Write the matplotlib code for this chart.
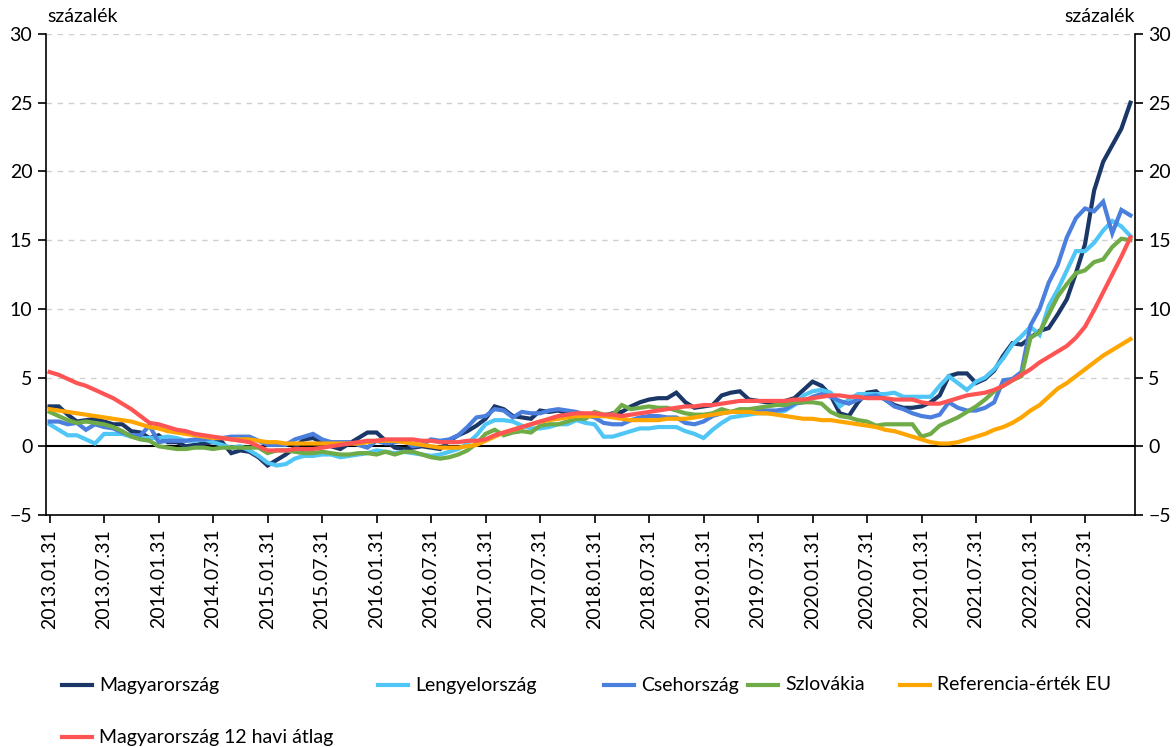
import matplotlib
matplotlib.use("Agg")
import matplotlib.pyplot as plt
from matplotlib.lines import Line2D
import numpy as np
import pandas as pd

plt.rcParams['font.family'] = ['Lato', 'DejaVu Sans']

# havi adatok 2013.01 - 2022.12, éves változás, százalék
dates = pd.date_range('2013-01-31', periods=120, freq='ME')

hu = [2.9, 2.9, 2.3, 1.8, 1.9, 2.0, 1.8, 1.6, 1.6, 1.1, 1.0, 0.6,
      0.8, 0.3, 0.3, 0.0, 0.1, 0.2, 0.3, 0.3, -0.5, -0.3, -0.4, -0.8,
      -1.4, -1.0, -0.6, -0.1, 0.5, 0.6, 0.3, 0.0, -0.2, 0.2, 0.6, 1.0,
      1.0, 0.4, -0.1, -0.2, -0.1, 0.0, -0.1, -0.2, 0.4, 0.8, 1.1, 1.5,
      2.0, 2.9, 2.7, 2.2, 2.1, 2.0, 2.6, 2.5, 2.6, 2.4, 2.3, 2.2,
      2.2, 2.2, 2.4, 2.5, 2.9, 3.2, 3.4, 3.5, 3.5, 3.9, 3.2, 2.8,
      2.9, 3.0, 3.7, 3.9, 4.0, 3.4, 3.3, 3.2, 3.2, 3.3, 3.5, 4.1,
      4.7, 4.4, 3.7, 2.4, 2.2, 3.2, 3.9, 4.0, 3.4, 3.0, 2.8, 2.8,
      2.9, 3.2, 3.7, 5.1, 5.3, 5.3, 4.6, 4.9, 5.5, 6.6, 7.5, 7.4,
      7.9, 8.4, 8.6, 9.6, 10.7, 12.6, 14.7, 18.6, 20.7, 21.9, 23.1, 25.0]

pl = [1.6, 1.2, 0.8, 0.8, 0.5, 0.2, 0.9, 0.9, 0.9, 0.7, 0.6, 0.6,
      0.6, 0.7, 0.6, 0.4, 0.4, 0.5, 0.3, 0.1, -0.1, 0.0, -0.3, -0.7,
      -1.2, -1.4, -1.3, -0.9, -0.7, -0.7, -0.6, -0.6, -0.8, -0.7, -0.6, -0.5,
      -0.3, -0.4, -0.5, -0.4, -0.5, -0.6, -0.7, -0.6, -0.4, -0.2, 0.2, 0.8,
      1.6, 1.9, 1.9, 1.8, 1.5, 1.3, 1.3, 1.4, 1.6, 1.6, 1.9, 1.7,
      1.6, 0.7, 0.7, 0.9, 1.1, 1.3, 1.3, 1.4, 1.4, 1.4, 1.1, 0.9,
      0.6, 1.2, 1.7, 2.1, 2.2, 2.3, 2.4, 2.4, 2.4, 2.6, 3.0, 3.7,
      4.0, 4.1, 3.9, 2.9, 3.4, 3.8, 3.8, 3.8, 3.8, 3.9, 3.6, 3.6,
      3.6, 3.6, 4.4, 5.1, 4.6, 4.1, 4.7, 5.0, 5.6, 6.4, 7.4, 8.0,
      8.7, 8.1, 10.2, 11.4, 12.8, 14.2, 14.2, 14.8, 15.7, 16.4, 16.0, 15.3]

cz = [1.8, 1.8, 1.6, 1.7, 1.2, 1.6, 1.4, 1.3, 1.0, 0.8, 0.8, 1.5,
      0.3, 0.4, 0.4, 0.4, 0.5, 0.5, 0.6, 0.6, 0.7, 0.7, 0.7, 0.4,
      0.1, 0.1, 0.1, 0.5, 0.7, 0.9, 0.5, 0.3, 0.3, 0.3, 0.1, -0.1,
      0.4, 0.2, 0.3, 0.4, 0.0, 0.1, 0.5, 0.4, 0.5, 0.8, 1.4, 2.1,
      2.2, 2.7, 2.6, 2.1, 2.5, 2.4, 2.4, 2.6, 2.7, 2.6, 2.5, 2.3,
      2.1, 1.7, 1.6, 1.6, 1.9, 2.1, 2.2, 2.2, 2.1, 2.1, 1.7, 1.6,
      1.8, 2.2, 2.4, 2.5, 2.5, 2.6, 2.6, 2.6, 2.6, 2.7, 3.1, 3.2,
      3.6, 3.8, 3.6, 3.3, 3.1, 3.4, 3.6, 3.7, 3.4, 2.9, 2.7, 2.4,
      2.2, 2.1, 2.3, 3.2, 2.8, 2.6, 2.6, 2.8, 3.2, 4.8, 4.9, 5.4,
      8.8, 10.0, 11.9, 13.2, 15.2, 16.6, 17.3, 17.1, 17.8, 15.5, 17.2, 16.8]

sk = [2.5, 2.2, 1.9, 1.7, 1.8, 1.7, 1.6, 1.4, 1.1, 0.7, 0.5, 0.4,
      0.0, -0.1, -0.2, -0.2, -0.1, -0.1, -0.2, -0.1, -0.1, -0.1, -0.1, -0.1,
      -0.5, -0.3, -0.3, -0.4, -0.5, -0.5, -0.4, -0.5, -0.6, -0.6, -0.5, -0.5,
      -0.6, -0.4, -0.6, -0.4, -0.4, -0.6, -0.8, -0.9, -0.8, -0.6, -0.3, 0.2,
      0.9, 1.2, 0.8, 1.0, 1.1, 1.0, 1.5, 1.6, 1.6, 1.8, 2.0, 2.0,
      2.5, 2.3, 2.3, 3.0, 2.7, 2.8, 2.9, 2.8, 2.8, 2.6, 2.4, 2.3,
      2.3, 2.4, 2.7, 2.5, 2.7, 2.7, 2.8, 2.9, 3.0, 3.0, 3.2, 3.2,
      3.2, 3.1, 2.5, 2.2, 2.1, 1.9, 1.8, 1.5, 1.6, 1.6, 1.6, 1.6,
      0.7, 0.9, 1.5, 1.8, 2.1, 2.5, 2.9, 3.4, 4.0, 4.4, 4.8, 5.1,
      7.9, 8.3, 9.6, 10.9, 11.8, 12.6, 12.8, 13.4, 13.6, 14.5, 15.1, 15.0]

ref_eu = [2.7, 2.6, 2.5, 2.4, 2.3, 2.2, 2.1, 2.0, 1.9, 1.8, 1.6, 1.4,
          1.3, 1.1, 1.0, 0.9, 0.8, 0.7, 0.6, 0.6, 0.5, 0.5, 0.5, 0.4,
          0.3, 0.3, 0.2, 0.2, 0.2, 0.2, 0.2, 0.2, 0.2, 0.2, 0.2, 0.3,
          0.4, 0.4, 0.4, 0.3, 0.2, 0.1, 0.0, -0.1, -0.1, -0.1, 0.0, 0.1,
          0.4, 0.7, 1.0, 1.2, 1.4, 1.6, 1.8, 1.9, 2.0, 2.1, 2.2, 2.2,
          2.2, 2.2, 2.1, 2.0, 1.9, 1.9, 1.9, 1.9, 2.0, 2.0, 2.0, 2.1,
          2.2, 2.3, 2.4, 2.5, 2.5, 2.5, 2.4, 2.4, 2.3, 2.2, 2.1, 2.0,
          2.0, 1.9, 1.9, 1.8, 1.7, 1.6, 1.5, 1.4, 1.2, 1.1, 0.9, 0.7,
          0.5, 0.3, 0.2, 0.2, 0.3, 0.5, 0.7, 0.9, 1.2, 1.4, 1.7, 2.1,
          2.6, 3.0, 3.6, 4.2, 4.6, 5.1, 5.6, 6.1, 6.6, 7.0, 7.4, 7.8]

hu_12m = [5.4, 5.2, 4.9, 4.6, 4.4, 4.1, 3.8, 3.5, 3.1, 2.7, 2.2, 1.7,
          1.6, 1.4, 1.2, 1.1, 0.9, 0.8, 0.7, 0.6, 0.5, 0.4, 0.3, 0.0,
          -0.3, -0.3, -0.3, -0.2, -0.2, -0.2, -0.1, 0.0, 0.1, 0.2, 0.3, 0.4,
          0.4, 0.5, 0.5, 0.5, 0.5, 0.4, 0.4, 0.3, 0.3, 0.3, 0.4, 0.4,
          0.5, 0.8, 1.0, 1.2, 1.4, 1.6, 1.8, 2.0, 2.2, 2.3, 2.4, 2.4,
          2.4, 2.3, 2.3, 2.2, 2.3, 2.4, 2.5, 2.6, 2.7, 2.8, 2.9, 2.9,
          3.0, 3.0, 3.1, 3.2, 3.3, 3.3, 3.3, 3.3, 3.3, 3.3, 3.4, 3.4,
          3.5, 3.6, 3.7, 3.7, 3.6, 3.6, 3.5, 3.5, 3.5, 3.4, 3.4, 3.4,
          3.2, 3.1, 3.1, 3.3, 3.5, 3.7, 3.8, 3.9, 4.1, 4.4, 4.8, 5.2,
          5.6, 6.1, 6.5, 6.9, 7.3, 7.9, 8.7, 9.9, 11.2, 12.5, 13.8, 15.2]

series = [
    ('Magyarország', hu, '#1b3768'),
    ('Lengyelország', pl, '#4fc6f5'),
    ('Csehország', cz, '#4a7fde'),
    ('Szlovákia', sk, '#6fab46'),
    ('Referencia-érték EU', ref_eu, '#ffa500'),
    ('Magyarország 12 havi átlag', hu_12m, '#ff5454'),
]

tick_labels = [d.strftime('%Y.%m.%d') for d in dates[::6]]

fs = 14
fig = plt.figure(figsize=(11.76, 7.47), dpi=100)
ax = fig.add_axes([0.0387, 0.3106, 0.9264, 0.6439])
x = np.arange(len(dates))

for name, vals, col in series:
    ax.plot(x, vals, color=col, lw=3, solid_joinstyle='miter', zorder=3)

ax.axhline(0, color='black', lw=1.5, zorder=2)
for yv in range(5, 31, 5):
    ax.axhline(yv, color='#d0d0d0', lw=1, ls=(0, (4, 4)), zorder=1)

ax.set_xlim(-0.45, 119.5)
ax.set_ylim(-5, 30)
ax.set_yticks(range(-5, 31, 5))
ax.set_xticks(x[::6])
ax.set_xticklabels(tick_labels, rotation=90, fontsize=fs)
ax.tick_params(axis='y', labelsize=fs, direction='out', length=6, width=1.2,
               left=True, right=True, labelleft=True, labelright=True)
ax.tick_params(axis='x', direction='out', length=6, width=1.2, pad=4)

ax.spines['top'].set_visible(False)
for s in ('left', 'right', 'bottom'):
    ax.spines[s].set_linewidth(1.2)

fig.text(47 / 1176, 1 - 17 / 747, 'százalék', fontsize=fs, ha='left', va='center')
fig.text(1135 / 1176, 1 - 17 / 747, 'százalék', fontsize=fs, ha='right', va='center')

# jelmagyarázat
legend_pos = [(62, 685), (378, 685), (604, 685), (748, 685), (900, 685), (62, 737)]
for (name, vals, col), (lx, ly) in zip(series, legend_pos):
    yf = 1 - ly / 747
    fig.add_artist(Line2D([lx / 1176, (lx + 30) / 1176], [yf, yf],
                          color=col, lw=3, transform=fig.transFigure))
    fig.text((lx + 37) / 1176, yf, name, fontsize=fs, ha='left', va='center')

fig.savefig('out.png', dpi=100)
